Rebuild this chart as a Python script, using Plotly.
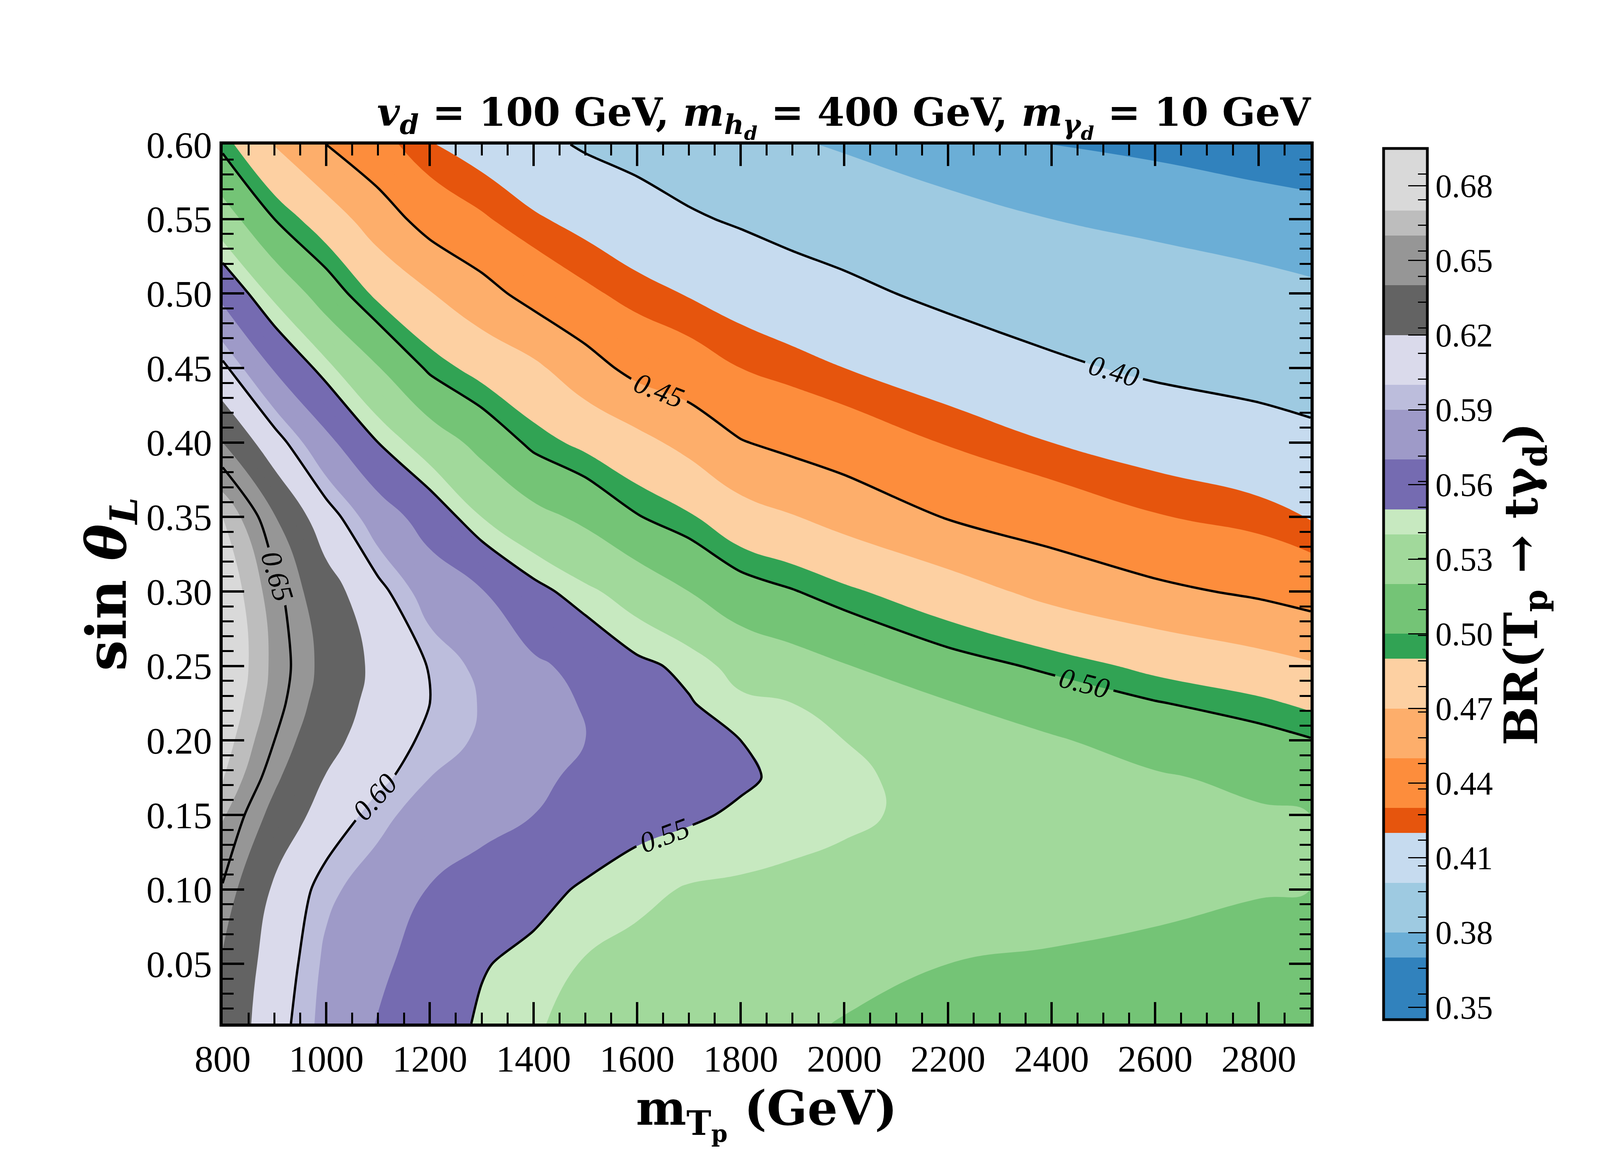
import plotly.graph_objects as go

# grid: columns are m_Tp (GeV), rows are sin(theta_L)
mass = [800, 900, 1000, 1100, 1200, 1300, 1400, 1500, 1600, 1700, 1800, 1900,
        2000, 2200, 2400, 2600, 2800, 2900]
sin_theta = [0.01, 0.05, 0.10, 0.15, 0.175, 0.20, 0.225, 0.25, 0.30, 0.35,
             0.40, 0.45, 0.50, 0.55, 0.60]

# BR(T_p -> t gamma_d) along each mass column, bottom (0.01) to top (0.60)
br_m800 = [0.636, 0.638, 0.649, 0.661, 0.671, 0.676, 0.680, 0.683, 0.680, 0.670, 0.640, 0.604, 0.564, 0.530, 0.496]
br_m900 = [0.607, 0.611, 0.617, 0.635, 0.643, 0.650, 0.655, 0.657, 0.654, 0.641, 0.608, 0.568, 0.536, 0.500, 0.469]
br_m1000 = [0.585, 0.587, 0.593, 0.611, 0.619, 0.626, 0.632, 0.635, 0.629, 0.608, 0.575, 0.544, 0.510, 0.480, 0.450]
br_m1100 = [0.569, 0.574, 0.583, 0.594, 0.604, 0.610, 0.613, 0.615, 0.605, 0.580, 0.550, 0.521, 0.486, 0.460, 0.436]
br_m1200 = [0.558, 0.561, 0.569, 0.583, 0.590, 0.596, 0.600, 0.599, 0.582, 0.561, 0.531, 0.497, 0.471, 0.442, 0.421]
br_m1300 = [0.548, 0.551, 0.562, 0.576, 0.583, 0.588, 0.589, 0.586, 0.571, 0.540, 0.514, 0.484, 0.457, 0.432, 0.413]
br_m1400 = [0.541, 0.546, 0.555, 0.570, 0.573, 0.575, 0.575, 0.573, 0.555, 0.526, 0.496, 0.474, 0.443, 0.422, 0.405]
br_m1500 = [0.537, 0.539, 0.548, 0.562, 0.567, 0.570, 0.569, 0.565, 0.543, 0.516, 0.486, 0.458, 0.433, 0.415, 0.398]
br_m1600 = [0.533, 0.536, 0.543, 0.555, 0.558, 0.558, 0.557, 0.553, 0.533, 0.501, 0.476, 0.444, 0.425, 0.408, 0.394]
br_m1700 = [0.530, 0.534, 0.539, 0.552, 0.553, 0.553, 0.551, 0.547, 0.520, 0.492, 0.464, 0.438, 0.419, 0.402, 0.390]
br_m1800 = [0.526, 0.531, 0.538, 0.548, 0.552, 0.550, 0.543, 0.534, 0.508, 0.478, 0.451, 0.430, 0.413, 0.398, 0.386]
br_m1900 = [0.523, 0.528, 0.536, 0.546, 0.547, 0.545, 0.540, 0.528, 0.501, 0.471, 0.445, 0.425, 0.408, 0.394, 0.3815]
br_m2000 = [0.519, 0.526, 0.534, 0.543, 0.543, 0.540, 0.530, 0.521, 0.493, 0.463, 0.440, 0.420, 0.404, 0.391, 0.3785]
br_m2200 = [0.515, 0.520, 0.528, 0.535, 0.534, 0.528, 0.521, 0.507, 0.479, 0.449, 0.429, 0.411, 0.396, 0.384, 0.374]
br_m2400 = [0.512, 0.518, 0.527, 0.531, 0.527, 0.522, 0.510, 0.497, 0.464, 0.440, 0.420, 0.403, 0.390, 0.380, 0.370]
br_m2600 = [0.510, 0.516, 0.524, 0.526, 0.522, 0.512, 0.501, 0.486, 0.454, 0.431, 0.413, 0.397, 0.387, 0.377, 0.368]
br_m2800 = [0.508, 0.513, 0.521, 0.522, 0.516, 0.506, 0.493, 0.477, 0.447, 0.425, 0.407, 0.394, 0.384, 0.374, 0.366]
br_m2900 = [0.507, 0.513, 0.520, 0.520, 0.510, 0.501, 0.487, 0.472, 0.442, 0.419, 0.404, 0.392, 0.382, 0.373, 0.365]

# colour bands of the filled contours (tab20c), edges in BR
band_edges = [0.35, 0.37, 0.38, 0.40, 0.42, 0.43, 0.45, 0.47, 0.49, 0.50, 0.52,
              0.54, 0.55, 0.57, 0.59, 0.60, 0.62, 0.64, 0.66, 0.67, 0.69]
band_colors = ["#3182bd", "#6baed6", "#9ecae1", "#c6dbef",
               "#e6550d", "#fd8d3c", "#fdae6b", "#fdd0a2",
               "#31a354", "#74c476", "#a1d99b", "#c7e9c0",
               "#756bb1", "#9e9ac8", "#bcbddc", "#dadaeb",
               "#636363", "#969696", "#bdbdbd", "#d9d9d9"]

columns = [br_m800, br_m900, br_m1000, br_m1100, br_m1200, br_m1300, br_m1400,
           br_m1500, br_m1600, br_m1700, br_m1800, br_m1900, br_m2000, br_m2200,
           br_m2400, br_m2600, br_m2800, br_m2900]
br = [list(row) for row in zip(*columns)]  # rows follow sin_theta

FILL_START, FILL_END, FILL_STEP = 0.35, 0.69, 0.01
SERIF = "Liberation Serif"
BOLD_SERIF = "DejaVu Serif"


def to_frac(v):
    # plotly maps the colorscale onto [start - step/2, end + step/2] for filled contours
    lo = FILL_START - FILL_STEP / 2
    return (v - lo) / (FILL_END - FILL_START + FILL_STEP)


colorscale = []
for lo, hi, c in zip(band_edges[:-1], band_edges[1:], band_colors):
    colorscale.append([to_frac(lo), c])
    colorscale.append([to_frac(hi), c])
colorscale[0][0] = 0.0
colorscale[-1][0] = 1.0

cbar_pos = dict(x=1.0636, xanchor="left", y=0.5, yanchor="middle", len=1.0,
                lenmode="fraction", thickness=112)

fig = go.Figure()
fig.add_trace(go.Contour(
    x=mass, y=sin_theta, z=br,
    autocontour=False,
    contours=dict(coloring="fill", start=FILL_START, end=FILL_END, size=FILL_STEP,
                  showlines=False),
    line=dict(width=0, smoothing=1.3),
    colorscale=colorscale,
    hoverinfo="skip",
    colorbar=dict(
        **cbar_pos,
        outlinewidth=7, outlinecolor="black",
        tickmode="linear", tick0=0.35, dtick=0.03, tickformat=".2f",
        ticks="inside", ticklen=52, tickwidth=3, tickcolor="black",
        tickfont=dict(family=SERIF, size=84, color="black"),
        title=dict(text="<b>BR(T<sub>p</sub> \u2192 t\u03b3<sub>d</sub>)</b>", side="right",
                   font=dict(family=BOLD_SERIF, size=118, color="black")),
    ),
))
fig.add_trace(go.Contour(
    x=mass, y=sin_theta, z=br,
    autocontour=False,
    contours=dict(coloring="none", start=0.40, end=0.65, size=0.05,
                  showlabels=True, labelformat=".2f",
                  labelfont=dict(family=SERIF, size=74, color="black", style="italic")),
    line=dict(color="black", width=6, smoothing=0.8),
    showscale=False,
    hoverinfo="skip",
))
# invisible helper whose transparent colour bar adds the short minor ticks
fig.add_trace(go.Scatter(
    x=[mass[0]], y=[sin_theta[0]], mode="markers", hoverinfo="skip", showlegend=False,
    marker=dict(size=1, opacity=0, color=[FILL_START], cmin=FILL_START, cmax=FILL_END,
                colorscale=[[0, "rgba(0,0,0,0)"], [1, "rgba(0,0,0,0)"]],
                showscale=True,
                colorbar=dict(**cbar_pos, outlinewidth=0, showticklabels=False,
                              tickmode="linear", tick0=0.35, dtick=0.01,
                              ticks="inside", ticklen=24, tickwidth=3,
                              tickcolor="black")),
))

axis_common = dict(
    ticks="inside", mirror="ticks", showline=True, linewidth=8, linecolor="black",
    tickcolor="black", tickwidth=6, ticklen=55, showgrid=False, zeroline=False,
    tickfont=dict(family=SERIF, size=96, color="black"),
)
fig.update_xaxes(
    range=[800, 2900], tickmode="linear", tick0=800, dtick=200,
    minor=dict(dtick=50, ticks="inside", ticklen=28, tickwidth=5, tickcolor="black",
               showgrid=False),
    title=dict(text="<b>m<sub>T<sub>p</sub></sub> (GeV)</b>", standoff=12,
               font=dict(family=BOLD_SERIF, size=122, color="black")),
    **axis_common,
)
fig.update_yaxes(
    range=[0.01, 0.60], tickmode="linear", tick0=0.0, dtick=0.05, tickformat=".2f",
    minor=dict(dtick=0.01, ticks="inside", ticklen=28, tickwidth=5, tickcolor="black",
               showgrid=False),
    title=dict(text="<b>sin <i>\u03b8</i><sub><i>L</i></sub></b>", standoff=8,
               font=dict(family=BOLD_SERIF, size=140, color="black")),
    **axis_common,
)
fig.update_layout(
    width=4500, height=3000,
    margin=dict(l=562, r=1153, t=362, b=388, autoexpand=False),
    paper_bgcolor="white", plot_bgcolor="white",
    font=dict(family=SERIF, color="black"),
    showlegend=False,
    title=dict(
        text="<b><i>v</i><sub><i>d</i></sub> = 100 GeV, <i>m</i><sub><i>h<sub>d</sub></i></sub>"
             " = 400 GeV, <i>m</i><sub><i>\u03b3<sub>d</sub></i></sub> = 10 GeV</b>",
        xref="paper", x=1.0, xanchor="right", yref="container", y=0.907, yanchor="middle",
        font=dict(family=BOLD_SERIF, size=100, color="black"),
    ),
)

fig.write_html("out.html")
